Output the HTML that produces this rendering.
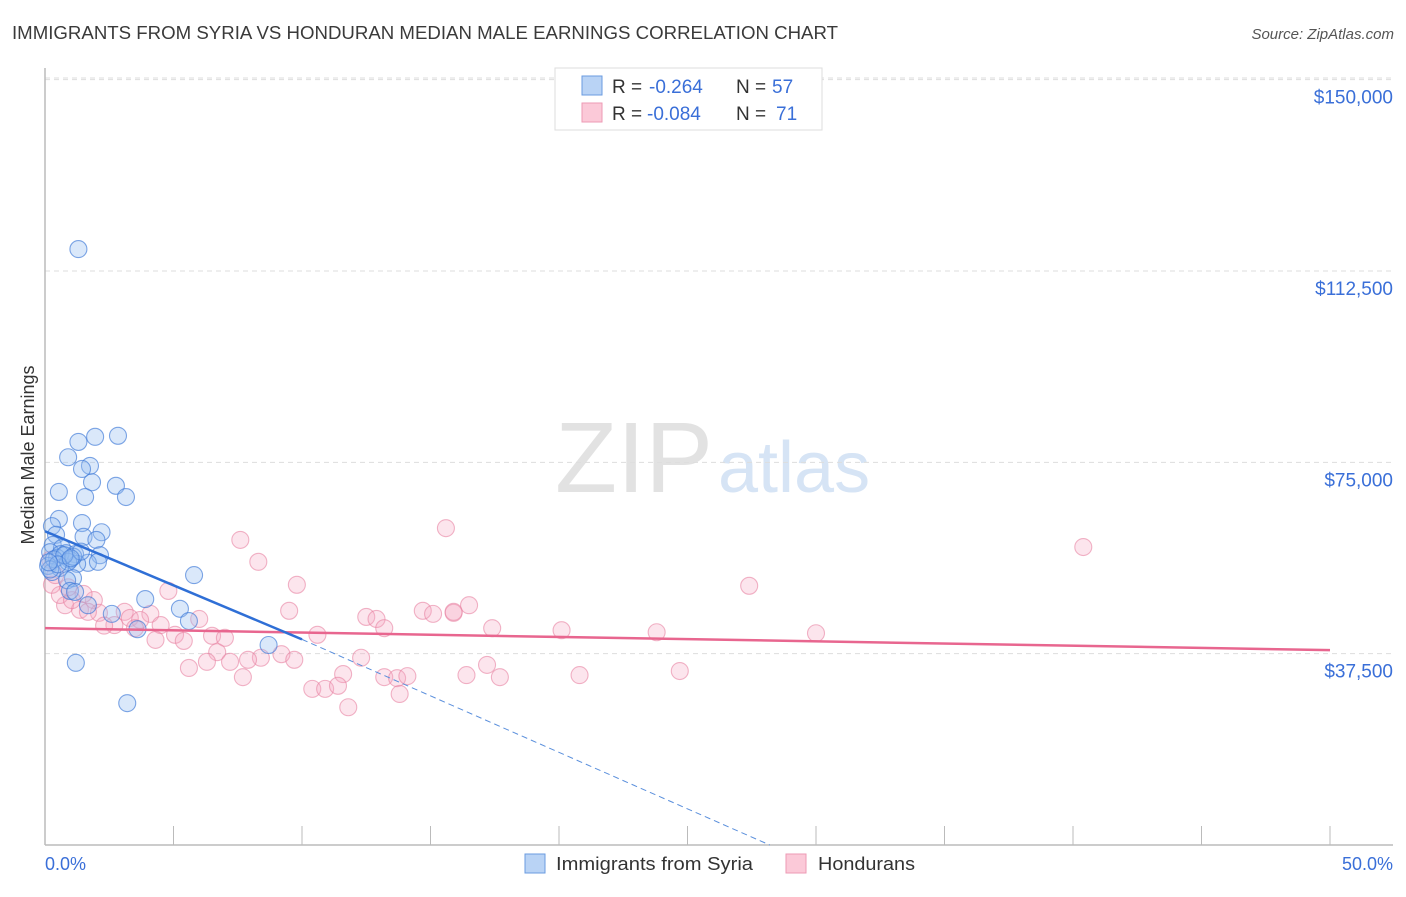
<!DOCTYPE html>
<html><head><meta charset="utf-8"><style>
body{margin:0;background:#fff;font-family:"Liberation Sans",sans-serif;}
svg text{font-family:"Liberation Sans",sans-serif;}
</style></head><body>
<svg id="chart" width="1406" height="892">
<text x="12" y="39" font-size="18" fill="#3a3a3a" textLength="826" lengthAdjust="spacingAndGlyphs">IMMIGRANTS FROM SYRIA VS HONDURAN MEDIAN MALE EARNINGS CORRELATION CHART</text>
<text x="1394" y="39" font-size="15" fill="#555" text-anchor="end" font-style="italic">Source: ZipAtlas.com</text>
<text x="555" y="492" font-size="100" fill="#e2e2e2" textLength="158" lengthAdjust="spacingAndGlyphs" font-family="Liberation Serif">ZIP</text>
<text x="718" y="492" font-size="72" fill="#d6e4f5">atlas</text>
<g id="grid"></g>
<line x1="45" y1="68" x2="45" y2="845" stroke="#bbb" stroke-width="1.5"/>
<line x1="45" y1="845" x2="1393" y2="845" stroke="#bbb" stroke-width="1.5"/>
<g id="xticks"></g>
<text transform="translate(34,455) rotate(-90)" font-size="18" fill="#333" text-anchor="middle">Median Male Earnings</text>
<text x="45" y="870" font-size="18" fill="#3a6fd8">0.0%</text>
<text x="1393" y="870" font-size="18" fill="#3a6fd8" text-anchor="end">50.0%</text>
<g id="pink"></g><g id="blue"></g><g id="trends"></g>
<g>
<rect x="555" y="68" width="267" height="62" fill="#fff" stroke="#ddd"/>
<rect x="582" y="76" width="20" height="19" fill="#b9d3f5" stroke="#6a9be0"/>
<rect x="582" y="103" width="20" height="19" fill="#fbc9d8" stroke="#ee9ab4"/>
<text x="612" y="93" font-size="19" fill="#333">R =</text>
<text x="649" y="93" font-size="19" fill="#3a6fd8">-0.264</text>
<text x="736" y="93" font-size="19" fill="#333">N =</text>
<text x="772" y="93" font-size="19" fill="#3a6fd8">57</text>
<text x="612" y="120" font-size="19" fill="#333">R =</text>
<text x="647" y="120" font-size="19" fill="#3a6fd8">-0.084</text>
<text x="736" y="120" font-size="19" fill="#333">N =</text>
<text x="776" y="120" font-size="19" fill="#3a6fd8">71</text>
</g>
<g>
<rect x="525" y="854" width="20" height="19" fill="#b9d3f5" stroke="#6a9be0"/>
<text x="556" y="870" font-size="18" fill="#333" textLength="197" lengthAdjust="spacingAndGlyphs">Immigrants from Syria</text>
<rect x="786" y="854" width="20" height="19" fill="#fbc9d8" stroke="#ee9ab4"/>
<text x="818" y="870" font-size="18" fill="#333" textLength="97" lengthAdjust="spacingAndGlyphs">Hondurans</text>
</g>
</svg>
<script>
const yTicks=[37500,75000,112500,150000];
const yTickLabels=["$37,500","$75,000","$112,500","$150,000"];
const xTicks=[0,5,10,15,20,25,30,35,40,45,50];
const blueX=[1.3,1.95,2.84,1.3,0.9,1.75,1.44,1.83,2.76,0.54,1.56,3.15,0.54,1.44,0.27,2.2,0.43,1.5,2.0,0.3,0.66,0.2,0.82,1.17,2.14,0.47,0.97,1.67,1.25,0.12,2.06,0.58,0.27,5.8,1.09,0.86,0.97,1.17,3.9,1.67,5.25,2.6,5.6,3.6,8.7,1.2,3.2,0.6,0.35,0.9,1.1,0.2,0.75,1.4,0.5,0.15,1.0];
const blueY=[116.8,80.0,80.2,79.0,76.0,74.3,73.7,71.1,70.4,69.2,68.2,68.2,63.9,63.1,62.5,61.3,60.8,60.4,59.8,58.8,58.2,57.4,57.2,57.0,56.8,56.3,55.9,55.3,55.1,54.7,55.5,54.3,53.5,52.9,52.3,51.9,49.8,49.6,48.2,47.0,46.3,45.3,43.9,42.3,39.2,35.7,27.8,57.0,56.0,55.5,56.5,54.0,56.8,57.5,55.0,55.4,56.2];
const pinkX=[15.6,40.4,7.6,8.3,9.8,27.4,4.8,16.5,9.5,14.7,15.1,15.9,12.5,12.9,6.0,3.1,4.1,3.3,1.9,0.78,1.36,2.1,2.7,4.5,5.06,6.5,7.0,10.6,13.2,17.4,20.1,23.8,30.0,4.3,5.4,6.7,8.4,9.2,6.3,7.2,7.9,9.7,12.3,17.2,11.6,5.6,7.7,13.2,13.7,14.1,16.4,17.7,20.8,24.7,10.4,10.9,11.4,13.8,11.8,0.27,0.4,0.58,0.2,1.05,1.67,3.7,15.9,2.3,3.5,0.9,1.5];
const pinkY=[62.1,58.4,59.8,55.5,51.0,50.8,49.8,47.0,45.9,45.9,45.3,45.5,44.7,44.3,44.3,45.7,45.3,44.5,48.0,47.0,46.1,45.5,43.1,43.1,41.2,41.0,40.6,41.2,42.5,42.5,42.1,41.7,41.5,40.2,40.0,37.8,36.7,37.4,35.9,35.9,36.3,36.3,36.7,35.3,33.5,34.7,32.9,32.9,32.7,33.1,33.3,32.9,33.3,34.1,30.6,30.6,31.2,29.6,27.0,51.0,52.9,49.0,55.9,48.0,45.7,44.1,45.7,43.0,42.5,50.5,49.2];
const blueTrend=[[0,61.5],[10,40.3]];
const blueDash=[[10,40.3],[28.2,0]];
const pinkTrend=[[0,42.5],[50,38.2]];
const X=v=>45+v*25.7;
const Y=v=>845-v*1000*191.33/37500;
const NS="http://www.w3.org/2000/svg";
function mk(t,a,p){const e=document.createElementNS(NS,t);for(const k in a)e.setAttribute(k,a[k]);document.getElementById(p).appendChild(e);return e;}
yTicks.forEach((t,i)=>{
 const l=mk('line',{x1:45,x2:1393,y1:Y(t/1000),y2:Y(t/1000),stroke:'#ddd','stroke-dasharray':'5,4'},'grid');
 
 
 const tx=mk('text',{x:1393,y:Y(t/1000)+24,'font-size':19,fill:'#3a6fd8','text-anchor':'end'},'grid');
 tx.textContent=yTickLabels[i];
 
 
});
{const l=mk('line',{x1:45,x2:1393,y1:78,y2:78,stroke:'#ddd','stroke-dasharray':'5,4'},'grid');
 
 }
xTicks.forEach(t=>{
 if(t===0)return;
 const l=mk('line',{x1:X(t),x2:X(t),y1:826,y2:845,stroke:'#bbb'},'xticks');
 
 
});
pinkX.forEach((x,i)=>{
 const c=mk('circle',{cx:X(x),cy:Y(pinkY[i]),r:8.5,fill:'rgba(246,170,195,0.3)',stroke:'rgba(232,130,162,0.6)','stroke-width':1.1},'pink');
 
 
});
blueX.forEach((x,i)=>{
 const c=mk('circle',{cx:X(x),cy:Y(blueY[i]),r:8.5,fill:'rgba(150,190,240,0.35)',stroke:'rgba(60,120,215,0.65)','stroke-width':1.1},'blue');
 
 
});
function ln(p,attrs,name){const l=mk('line',Object.assign({x1:X(p[0][0]),y1:Y(p[0][1]),x2:X(p[1][0]),y2:Y(p[1][1])},attrs),'trends');
 
 }
ln(pinkTrend,{stroke:'#e8668f','stroke-width':2.5},'hondurans-trendline');
ln(blueTrend,{stroke:'#2f6fd6','stroke-width':2.5},'syria-trendline');
ln(blueDash,{stroke:'#5a8fdc','stroke-width':1,'stroke-dasharray':'6,4'},'syria-trendline-extension');
</script>
</body></html>
